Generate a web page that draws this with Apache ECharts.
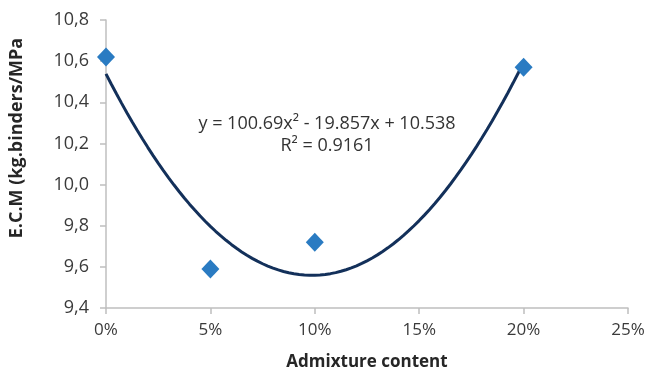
<!DOCTYPE html>
<html>
<head>
<meta charset="utf-8">
<script src="https://cdn.jsdelivr.net/npm/echarts@6/dist/echarts.min.js"></script>
<style>
  html, body { margin: 0; padding: 0; background: #ffffff; }
  #chart { width: 649px; height: 376px; }
</style>
</head>
<body>
<div id="chart"></div>
<script>
// Admixture content (fraction) and measured E.C.M values
const admixture = [0, 0.05, 0.10, 0.20];
const ecm = [10.62, 9.59, 9.72, 10.57];

// Polynomial trendline coefficients (a·x² + b·x + c) and its R²
const trendCoef = [100.69, -19.857, 10.538];
const rSquared = 0.9161;
const trendRange = [0, 0.20];

// Axis ticks
const xTicks = [0, 0.05, 0.10, 0.15, 0.20, 0.25];
const yTicks = [9.4, 9.6, 9.8, 10.0, 10.2, 10.4, 10.6, 10.8];

// Points along the fitted curve
const trendPoints = [];
const steps = 80;
for (let i = 0; i <= steps; i++) {
  const x = trendRange[0] + (trendRange[1] - trendRange[0]) * i / steps;
  const y = trendCoef[0] * x * x + trendCoef[1] * x + trendCoef[2];
  trendPoints.push([x, y]);
}

const fontFamily = '"Open Sans", "Liberation Sans", sans-serif';
const eqText = 'y = ' + trendCoef[0] + 'x² - ' + Math.abs(trendCoef[1]) + 'x + ' + trendCoef[2];
const r2Text = 'R² = ' + rSquared;

const chart = echarts.init(document.getElementById('chart'), null, { renderer: 'canvas' });
chart.setOption({
  animation: false,
  backgroundColor: '#ffffff',
  grid: { left: 105, right: 21, top: 20, bottom: 67 },
  xAxis: {
    type: 'value',
    min: xTicks[0],
    max: xTicks[xTicks.length - 1],
    interval: 0.05,
    name: 'Admixture content',
    nameLocation: 'middle',
    nameGap: 46,
    nameTextStyle: { fontFamily, fontSize: 17, fontWeight: 'bold', color: '#262626' },
    axisLine: { lineStyle: { color: '#bfbfbf', width: 1.5 } },
    axisTick: { show: true, length: 6, lineStyle: { color: '#bfbfbf', width: 1.5 } },
    axisLabel: {
      fontFamily, fontSize: 17, color: '#3a3a3a', margin: 14,
      formatter: v => Math.round(v * 100) + '%'
    },
    splitLine: { show: false }
  },
  yAxis: {
    type: 'value',
    min: yTicks[0],
    max: yTicks[yTicks.length - 1],
    interval: 0.2,
    name: 'E.C.M (kg.binders/MPa',
    nameLocation: 'middle',
    nameRotate: 90,
    nameGap: 80,
    nameTextStyle: { fontFamily, fontSize: 18, fontWeight: 'bold', color: '#262626', padding: [0, 0, 0, 52] },
    axisLine: { show: true, lineStyle: { color: '#bfbfbf', width: 1.5 } },
    axisTick: { show: true, length: 6, lineStyle: { color: '#bfbfbf', width: 1.5 } },
    axisLabel: {
      fontFamily, fontSize: 18, color: '#3a3a3a', margin: 17,
      formatter: v => v.toFixed(1).replace('.', ',')
    },
    splitLine: { show: false }
  },
  graphic: [
    {
      type: 'text', x: 327, y: 124,
      style: { text: eqText, fontFamily, fontSize: 18, fill: '#333333', align: 'center', verticalAlign: 'middle' }
    },
    {
      type: 'text', x: 327, y: 146,
      style: { text: r2Text, fontFamily, fontSize: 18, fill: '#333333', align: 'center', verticalAlign: 'middle' }
    }
  ],
  series: [
    {
      name: 'Trend',
      type: 'line',
      data: trendPoints,
      showSymbol: false,
      smooth: false,
      lineStyle: { color: '#13305a', width: 3 },
      z: 2
    },
    {
      name: 'E.C.M',
      type: 'scatter',
      data: admixture.map((x, i) => [x, ecm[i]]),
      symbol: 'diamond',
      symbolSize: [18, 19],
      itemStyle: { color: '#2a7bc2', opacity: 1 },
      z: 3
    }
  ]
});
</script>
</body>
</html>
